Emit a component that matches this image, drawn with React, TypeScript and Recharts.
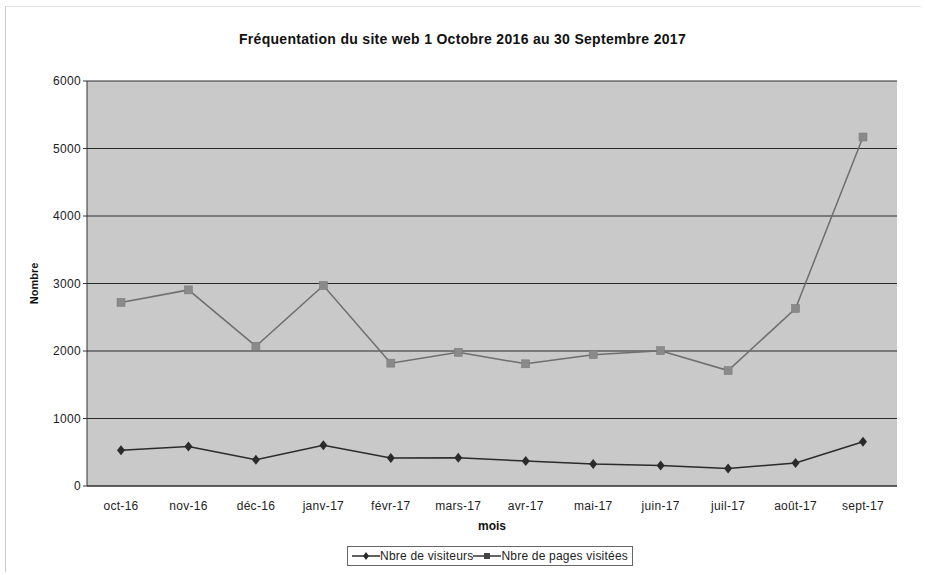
import React from "react";
import { LineChart, Line, XAxis, YAxis, CartesianGrid, Legend } from "recharts";

const mois = ["oct-16", "nov-16", "déc-16", "janv-17", "févr-17", "mars-17", "avr-17", "mai-17", "juin-17", "juil-17", "août-17", "sept-17"];
const visiteurs = [530, 585, 390, 605, 415, 420, 370, 325, 305, 260, 340, 655];
const pages = [2720, 2905, 2070, 2970, 1820, 1980, 1810, 1945, 2005, 1710, 2630, 5170];
const yTicks = [0, 1000, 2000, 3000, 4000, 5000, 6000];

const data = mois.map((m, i) => ({ mois: m, visiteurs: visiteurs[i], pages: pages[i] }));

const FONT = "'Liberation Sans', Arial, sans-serif";

const Diamond = (props: any) => {
    const { cx, cy } = props;
    if (cx == null || cy == null) return null;
    return <path d={`M${cx},${cy - 5}L${cx + 4},${cy}L${cx},${cy + 5}L${cx - 4},${cy}Z`} fill="#2b2b2b" />;
};

const Square = (props: any) => {
    const { cx, cy } = props;
    if (cx == null || cy == null) return null;
    return <rect x={cx - 4} y={cy - 4} width={8} height={8} fill="#8a8a8a" stroke="#777" strokeWidth={0.5} />;
};

// légende façon Excel, avec cadre (centrée sur la zone de tracé)
const Legende = () => (
    <div style={{ display: "flex", justifyContent: "center", paddingTop: 10, paddingLeft: 56 }}>
        <div style={{ border: "1px solid #666", padding: "2px 4px", display: "flex", alignItems: "center", fontSize: 12, fontFamily: FONT, color: "#222", background: "#fff", letterSpacing: 0.2 }}>
            <svg width={28} height={10}>
                <line x1={0} y1={5} x2={28} y2={5} stroke="#2b2b2b" strokeWidth={1.5} />
                <path d="M14,1L17,5L14,9L11,5Z" fill="#2b2b2b" />
            </svg>
            <span>Nbre de visiteurs</span>
            <svg width={28} height={10}>
                <line x1={0} y1={5} x2={28} y2={5} stroke="#333" strokeWidth={1.5} />
                <rect x={11} y={2} width={6} height={6} fill="#444" />
            </svg>
            <span>Nbre de pages visitées</span>
        </div>
    </div>
);

export default function App() {
    return (
        <div style={{ position: "absolute", left: 0, top: 0, width: 925, height: 575, background: "#fff" }}>
            <div style={{ position: "absolute", left: 5, top: 6, width: 915, height: 565, borderLeft: "1px solid #ccc", borderTop: "1px solid #e4e4e4" }} />
            <div style={{ position: "absolute", left: 0, top: 31, width: 925, textAlign: "center", fontFamily: FONT, fontWeight: "bold", fontSize: 14, letterSpacing: 0.3, color: "#111" }}>
                Fréquentation du site web 1 Octobre 2016 au 30 Septembre 2017
            </div>
            <LineChart
                width={925}
                height={575}
                data={data}
                margin={{ top: 81, right: 28, left: 27, bottom: 9 }}
                style={{ position: "absolute", left: 0, top: 0 }}
            >
                <CartesianGrid vertical={false} stroke="#2a2a2a" strokeWidth={1} fill="#c9c9c9" fillOpacity={1} />
                <XAxis
                    dataKey="mois"
                    interval={0}
                    tickLine={false}
                    stroke="#333"
                    height={50}
                    padding={{ left: 34, right: 34 }}
                    tick={{ fontSize: 12, fill: "#222", fontFamily: FONT, letterSpacing: 0.3 }}
                    tickMargin={9}
                    label={{ value: "mois", position: "insideBottom", offset: 6, style: { fontSize: 12, fontWeight: "bold", fill: "#111", fontFamily: FONT } }}
                />
                <YAxis
                    domain={[0, 6000]}
                    ticks={yTicks}
                    width={60}
                    stroke="#333"
                    tickSize={4}
                    tick={{ fontSize: 12, fill: "#222", fontFamily: FONT, letterSpacing: 0.3 }}
                    label={{ value: "Nombre", angle: -90, position: "insideLeft", offset: 7, style: { fontSize: 11, fontWeight: "bold", fill: "#111", fontFamily: FONT, textAnchor: "middle" } }}
                />
                <Legend verticalAlign="bottom" height={30} content={<Legende />} />
                <Line dataKey="visiteurs" name="Nbre de visiteurs" stroke="#2b2b2b" strokeWidth={1.5} dot={<Diamond />} isAnimationActive={false} />
                <Line dataKey="pages" name="Nbre de pages visitées" stroke="#6e6e6e" strokeWidth={1.5} dot={<Square />} isAnimationActive={false} />
            </LineChart>
        </div>
    );
}
